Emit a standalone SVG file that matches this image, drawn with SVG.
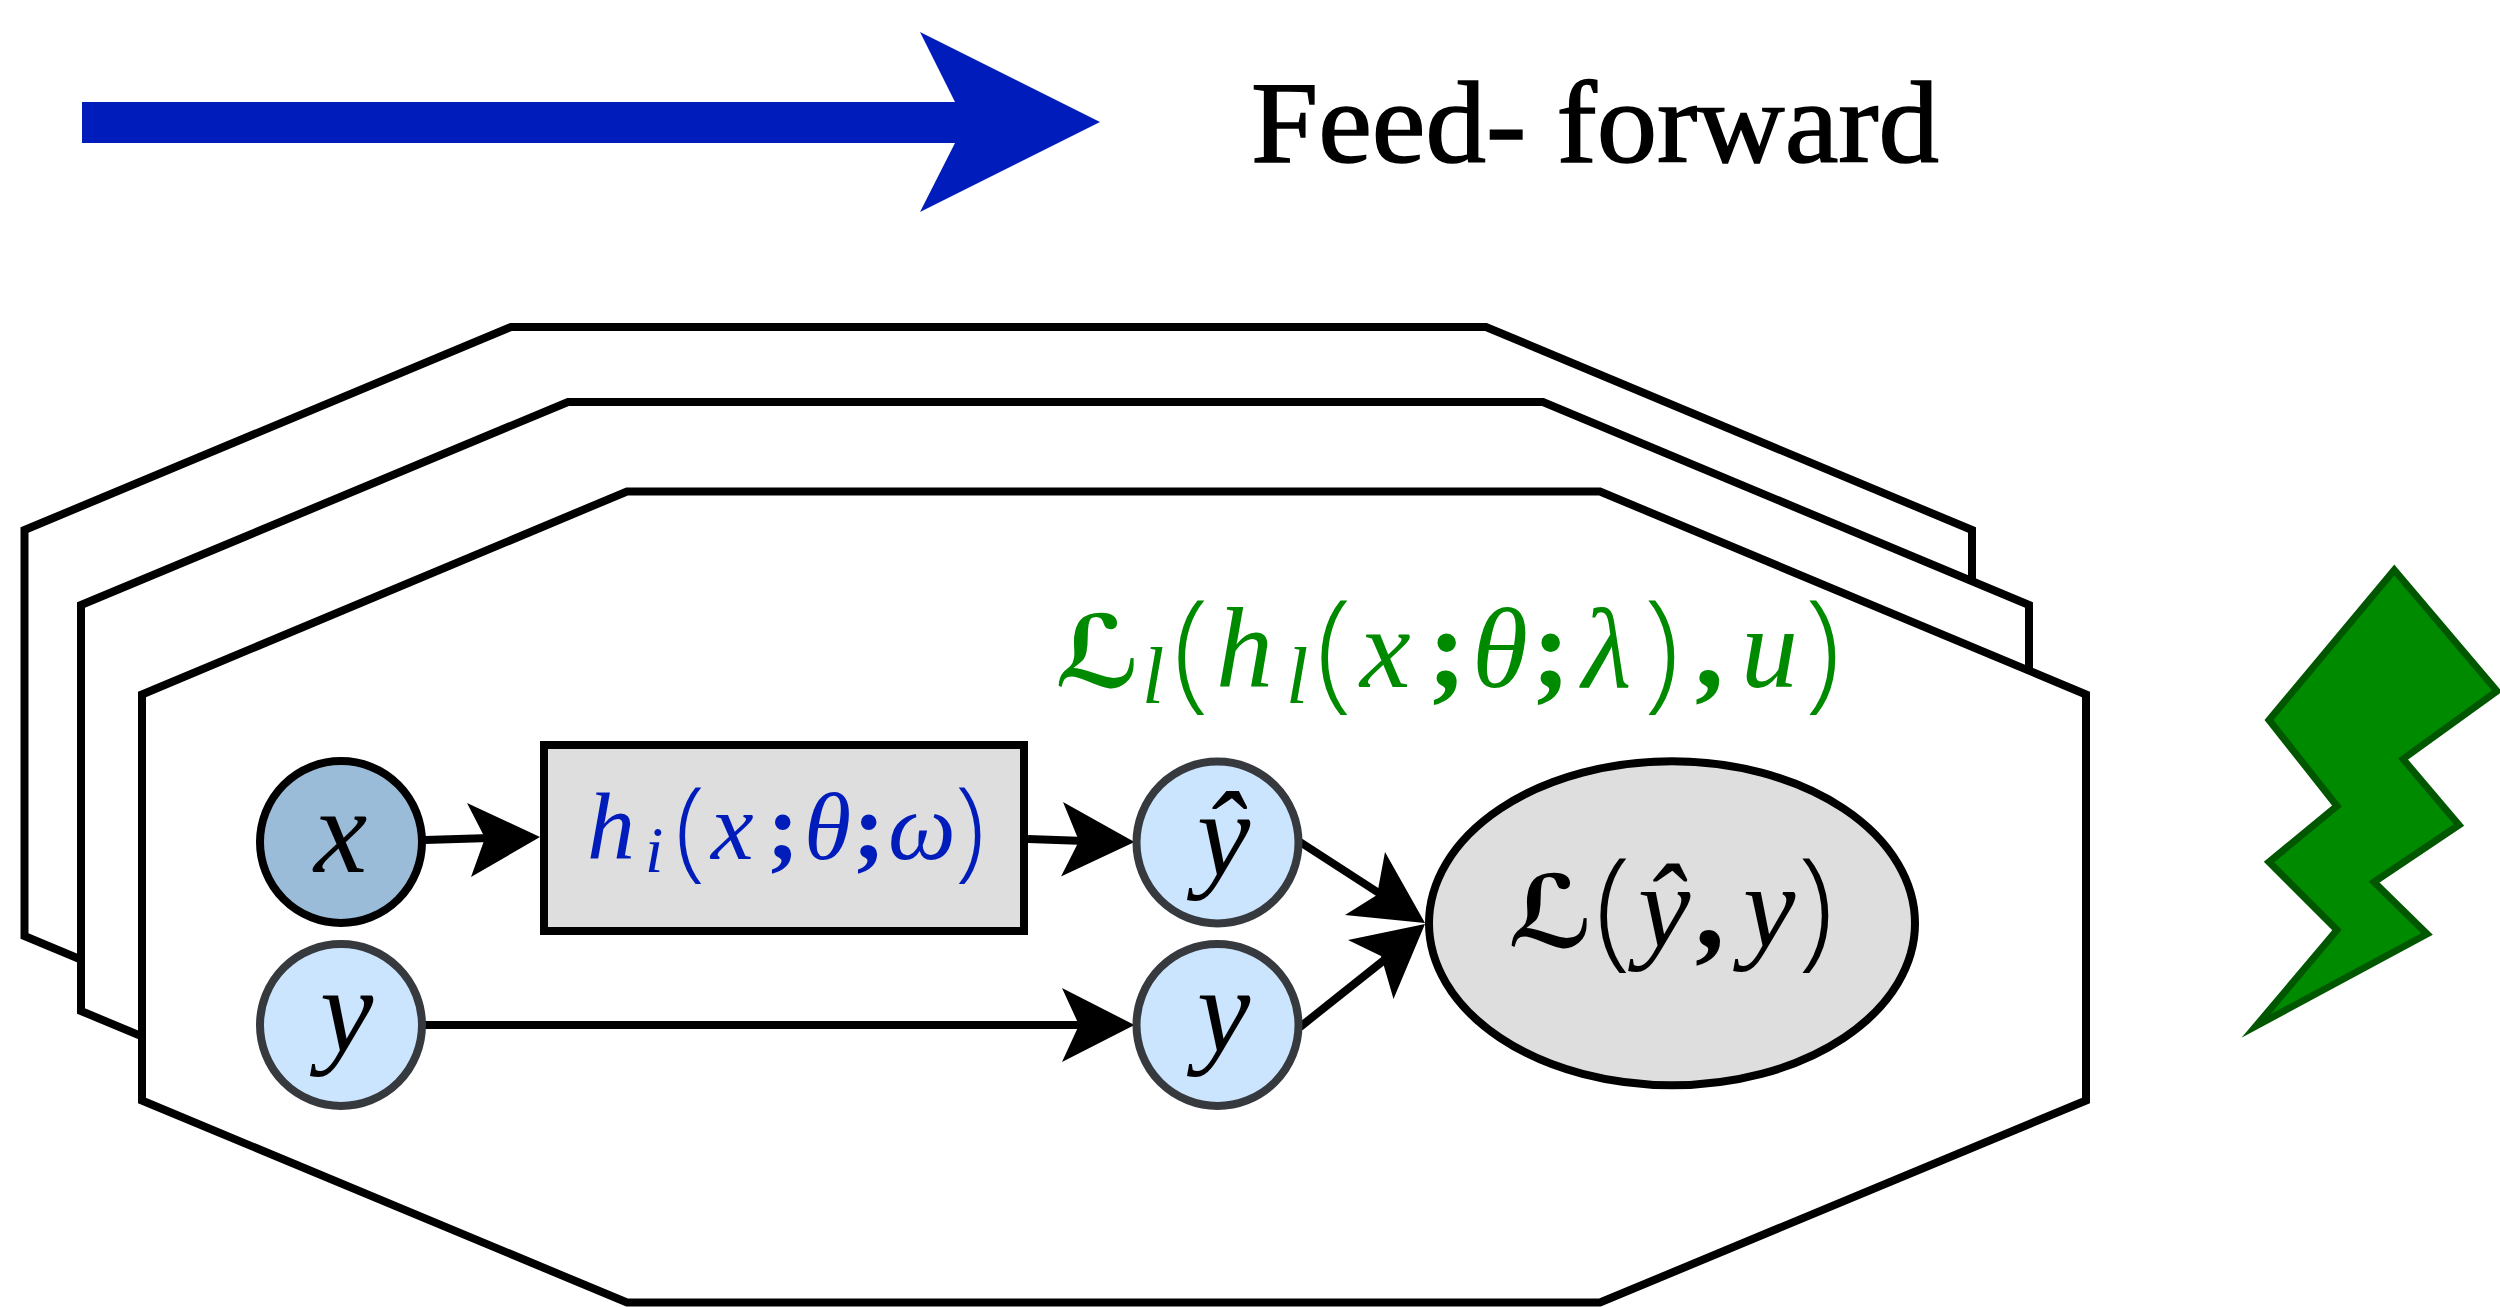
<svg xmlns="http://www.w3.org/2000/svg" width="2500" height="1307" viewBox="0 0 2500 1307">
<style>
.oct{fill:#fff;stroke:#000;stroke-width:8}
.in{fill:#cce5ff;stroke:#36393d;stroke-width:8}
.conn{stroke:#000;stroke-width:8;fill:none}
.head{fill:#000}
.m{font-family:"Liberation Serif",serif;font-style:italic}
.p{font-family:"Open Sans",sans-serif;font-style:normal;font-weight:300}
.s{font-family:"Liberation Serif",serif;font-style:normal;font-weight:bold}
.c{font-family:"DejaVu Sans",sans-serif;font-style:normal;font-weight:bold}
</style>
<rect width="2500" height="1307" fill="#fff"/>
<g id="legend-arrow"><polygon points="82,102 955,102 920,32 1100,122 920,212 955,143 82,143" fill="#001dbc"/></g>
<g id="legend-label"><text x="1251" y="162" font-family="Liberation Serif,serif" font-size="116" textLength="688" lengthAdjust="spacingAndGlyphs" fill="#000" stroke="#000" stroke-width="1.5">Feed- forward</text></g>
<g id="plate-back"><polygon class="oct" points="24.5,530 511,327 1486,327 1972,530 1972,936 1486,1139 511,1139 24.5,936"/></g>
<g id="plate-middle"><polygon class="oct" points="81,605 568,402 1543,402 2029,605 2029,1011 1543,1214 568,1214 81,1011"/></g>
<g id="plate-front"><polygon class="oct" points="142,694.5 627,491.5 1600,491.5 2086,694.5 2086,1100.5 1600,1302.5 627,1302.5 142,1100.5"/></g>
<g id="plate-label"><text font-size="114" fill="#008a00"><tspan class="c" x="1055" y="687" font-size="100">ℒ</tspan><tspan class="m" x="1142" y="703" font-size="80">l</tspan><tspan class="p" x="1173" y="694" font-size="131">(</tspan><tspan class="m" x="1216" y="687">h</tspan><tspan class="m" x="1286" y="703" font-size="80">l</tspan><tspan class="p" x="1316" y="694" font-size="131">(</tspan><tspan class="m" x="1360" y="687">x</tspan><tspan class="s" x="1428" y="687">;</tspan><tspan class="m" x="1472" y="687">θ</tspan><tspan class="s" x="1532" y="687">;</tspan><tspan class="m" x="1582" y="687">λ</tspan><tspan class="p" x="1644" y="694" font-size="131">)</tspan><tspan class="s" x="1695" y="687">,</tspan><tspan class="m" x="1741" y="687">u</tspan><tspan class="p" x="1805" y="694" font-size="131">)</tspan></text></g>
<g id="connectors">
<line class="conn" x1="425" y1="840" x2="490" y2="838"/>
<polygon class="head" points="540,837 471,877 485,838 467,803"/>
<line class="conn" x1="1028" y1="839" x2="1085" y2="841"/>
<polygon class="head" points="1134.5,842 1061,876.5 1079,841 1063,802"/>
<line class="conn" x1="425" y1="1025" x2="1085" y2="1025"/>
<polygon class="head" points="1134.5,1025 1062,1062 1079,1025 1062,988"/>
<line class="conn" x1="1300" y1="842" x2="1385" y2="897"/>
<polygon class="head" points="1425,923 1345,915 1377,895 1385,852"/>
<line class="conn" x1="1300" y1="1027" x2="1388" y2="957"/>
<polygon class="head" points="1425,924 1393.5,999 1381,956 1348,940"/>
</g>
<g id="node-x"><circle cx="341" cy="842" r="81" fill="#9abcd9" stroke="#000" stroke-width="8"/><text class="m" x="314" y="872" font-size="120" fill="#000">x</text></g>
<g id="node-y"><circle class="in" cx="341" cy="1025" r="81"/><text class="m" x="320" y="1051" font-size="120" fill="#000">y</text></g>
<g id="node-h"><rect x="544" y="745" width="480" height="186" fill="#dedede" stroke="#000" stroke-width="8"/><text font-size="96" fill="#001dbc"><tspan class="m" x="587" y="859">h</tspan><tspan class="m" x="645" y="872" font-size="66">i</tspan><tspan class="p" x="675" y="866" font-size="110">(</tspan><tspan class="m" x="711" y="859">x</tspan><tspan class="s" x="767" y="859">;</tspan><tspan class="m" x="804" y="859">θ</tspan><tspan class="s" x="853" y="859">;</tspan><tspan class="m" x="888" y="859">ω</tspan><tspan class="p" x="955" y="866" font-size="110">)</tspan></text></g>
<g id="node-yhat"><circle class="in" cx="1217.5" cy="842.5" r="81"/><text class="m" x="1197" y="875" font-size="120" fill="#000">ŷ</text></g>
<g id="node-y2"><circle class="in" cx="1217.5" cy="1025" r="81"/><text class="m" x="1197" y="1051" font-size="120" fill="#000">y</text></g>
<g id="node-loss"><ellipse cx="1672" cy="923.3" rx="243" ry="162" fill="#dedede" stroke="#000" stroke-width="8"/><text font-size="118" fill="#000"><tspan class="c" x="1508" y="947" font-size="100">ℒ</tspan><tspan class="p" x="1595" y="952" font-size="131">(</tspan><tspan class="m" x="1638" y="947">ŷ</tspan><tspan class="s" x="1695" y="947">,</tspan><tspan class="m" x="1743" y="947">y</tspan><tspan class="p" x="1798" y="952" font-size="131">)</tspan></text></g>
<g id="bolt"><polygon points="2394.3,570 2497,691 2403,759 2459,825 2374,882 2427,934 2256,1026 2337,930 2269,862 2337,806 2269,720" fill="#008a00" stroke="#005700" stroke-width="7" stroke-miterlimit="10"/></g>
</svg>
